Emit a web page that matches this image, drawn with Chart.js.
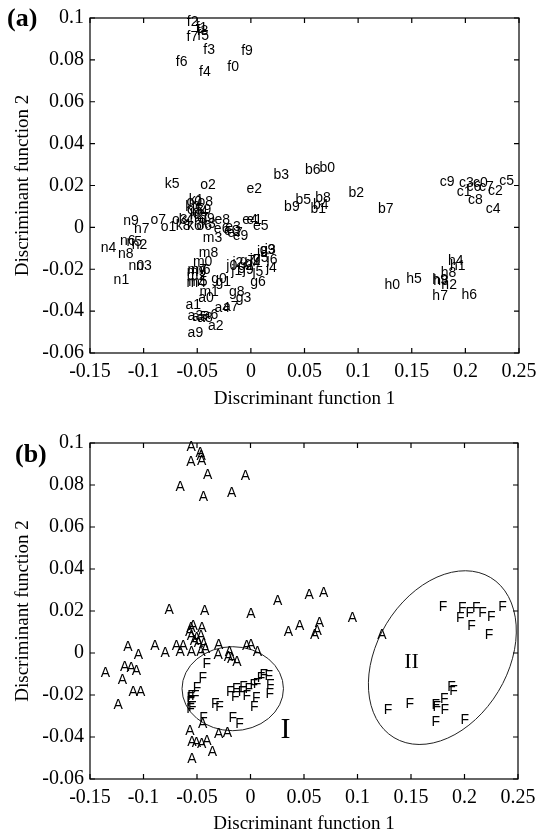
<!DOCTYPE html>
<html>
<head>
<meta charset="utf-8">
<script src="https://cdn.jsdelivr.net/npm/chart.js@4.4.0/dist/chart.umd.min.js"></script>
<style>
  body { margin: 0; background: #fff; }
  canvas { display: block; }
</style>
</head>
<body>
<canvas id="chartA" width="544" height="418"></canvas>
<canvas id="chartB" width="544" height="418"></canvas>
<script>
// sample names: letter = group, digit = replicate
const groups = ['a', 'b', 'c', 'e', 'f', 'g', 'h', 'j', 'k', 'm', 'n', 'o'];
const sampleLabels = groups.flatMap(g => [0, 1, 2, 3, 4, 5, 6, 7, 8, 9].map(d => g + d));

// groups marked "F" in panel (b), the rest are "A"
const fGroups = ['c', 'g', 'h', 'j', 'm'];

// discriminant function 1 (x)
const df1 = [
  -0.049, -0.061, -0.040, -0.059, -0.034, -0.055, -0.045, -0.026, -0.050, -0.059,   // a
  0.064, 0.0555, 0.091, 0.021, 0.058, 0.0415, 0.0505, 0.1185, 0.060, 0.031,         // b
  0.207, 0.192, 0.221, 0.194, 0.219, 0.2316, 0.201, 0.2128, 0.2025, 0.176,          // c
  -0.025, -0.004, -0.004, -0.024, -0.008, 0.002, -0.0345, -0.022, -0.034, -0.017,   // e
  -0.022, -0.0515, -0.0597, -0.0443, -0.0483, -0.050, -0.070, -0.060, -0.0505, -0.009, // f
  -0.037, -0.033, -0.012, -0.0142, -0.0057, 0.002, -0.0005, -0.0104, -0.0205, 0.0083, // g
  0.1245, 0.1857, 0.1776, 0.1701, 0.1838, 0.1448, 0.1963, 0.1692, 0.177, 0.1692,   // h
  -0.0229, -0.0182, -0.0172, 0.013, 0.014, 0.0015, 0.0146, -0.001, 0.0058, -0.0075, // j
  -0.0612, -0.058, -0.0567, -0.0466, -0.0673, -0.0804, -0.0596, -0.053, -0.070, -0.0508, // k
  -0.054, -0.048, -0.0598, -0.0448, -0.060, -0.0585, -0.0557, -0.059, -0.0485, -0.0598, // m
  -0.114, -0.128, -0.111, -0.107, -0.140, -0.116, -0.122, -0.109, -0.124, -0.119,   // n
  -0.060, -0.084, -0.0472, -0.0736, -0.0547, -0.0596, -0.0508, -0.0937, -0.0498, -0.0482 // o
];

// discriminant function 2 (y)
const df2 = [
  -0.034, -0.037, -0.047, -0.0425, -0.0385, -0.043, -0.042, -0.038, -0.0432, -0.0505, // a
  0.0285, 0.0086, 0.0164, 0.0249, 0.0105, 0.0128, 0.0275, 0.0086, 0.014, 0.0097,      // b
  0.0212, 0.0167, 0.0172, 0.0212, 0.0087, 0.022, 0.0192, 0.0192, 0.0129, 0.0218,      // c
  -0.002, 0.0036, 0.0185, 0.0003, 0.0034, 0.0004, -0.0008, -0.0028, 0.0036, -0.0043,  // e
  0.0763, 0.0952, 0.0979, 0.0847, 0.074, 0.0915, 0.079, 0.0907, 0.0938, 0.0843,       // f
  -0.0245, -0.026, -0.0186, -0.034, -0.017, -0.0147, -0.026, -0.0162, -0.031, -0.0107, // g
  -0.0274, -0.0183, -0.0274, -0.0258, -0.0162, -0.0245, -0.0322, -0.033, -0.0218, -0.025, // h
  -0.0186, -0.021, -0.017, -0.011, -0.0194, -0.0215, -0.0155, -0.0155, -0.0119, -0.0205, // j
  0.0097, 0.0128, 0.0057, 0.0017, 0.0033, 0.0205, 0.0004, 0.0046, 0.0004, 0.0081,    // k
  -0.0165, -0.031, -0.0234, -0.0053, -0.0267, -0.026, -0.0205, -0.0205, -0.0122, -0.0215, // m
  -0.0185, -0.025, -0.0085, -0.0185, -0.0097, -0.0072, -0.0065, -0.001, -0.0128, 0.003, // n
  0.012, 0.0001, 0.0201, 0.0033, 0.0073, 0.0081, 0.0004, 0.0033, 0.012, 0.0041        // o
];

const xTicks = [-0.15, -0.1, -0.05, 0, 0.05, 0.1, 0.15, 0.2, 0.25];
const xTickLabels = ['-0.15', '-0.1', '-0.05', '0', '0.05', '0.1', '0.15', '0.2', '0.25'];
const yTicks = [-0.06, -0.04, -0.02, 0, 0.02, 0.04, 0.06, 0.08, 0.1];
const yTickLabels = ['-0.06', '-0.04', '-0.02', '0', '0.02', '0.04', '0.06', '0.08', '0.1'];

// regions in panel (b): centre and two half-axis vectors, in data units
const regionNames = ['I', 'II'];
const regionCenters = [[-0.0166, -0.017], [0.1793, -0.0022]];
const regionAxisU = [[0.0474, 0], [0.0452, 0.0381]];
const regionAxisV = [[0, 0.020], [0.0523, -0.0161]];
const regionLabelAt = [[0.028, -0.0365], [0.1437, -0.0042]];

const serif = '"Liberation Serif", "Times New Roman", serif';
const sans = '"Liberation Sans", Arial, sans-serif';

const sampleClass = sampleLabels.map(s => fGroups.includes(s[0]) ? 'F' : 'A');
const points = df1.map((x, i) => ({ x: x, y: df2[i] }));

// writes each sample's text at its point, left aligned, like matlab text()
const textMarks = {
  id: 'textMarks',
  afterDatasetsDraw(chart) {
    const ctx = chart.ctx;
    const ds = chart.data.datasets[0];
    const meta = chart.getDatasetMeta(0);
    ctx.save();
    ctx.font = '14px ' + sans;
    ctx.fillStyle = '#000';
    ctx.textAlign = 'left';
    ctx.textBaseline = 'middle';
    meta.data.forEach((el, i) => ctx.fillText(ds.texts[i], el.x, el.y));
    ctx.restore();
  }
};

// box frame with inward ticks on all four sides + panel letter
const frameTicks = {
  id: 'frameTicks',
  afterDraw(chart, args, opts) {
    const { ctx, chartArea: a, scales: { x, y } } = chart;
    ctx.save();
    ctx.strokeStyle = '#000';
    ctx.lineWidth = 1.2;
    ctx.strokeRect(a.left, a.top, a.right - a.left, a.bottom - a.top);
    ctx.beginPath();
    x.ticks.forEach(t => {
      const px = x.getPixelForValue(t.value);
      ctx.moveTo(px, a.bottom); ctx.lineTo(px, a.bottom - 5);
      ctx.moveTo(px, a.top); ctx.lineTo(px, a.top + 5);
    });
    y.ticks.forEach(t => {
      const py = y.getPixelForValue(t.value);
      ctx.moveTo(a.left, py); ctx.lineTo(a.left + 5, py);
      ctx.moveTo(a.right, py); ctx.lineTo(a.right - 5, py);
    });
    ctx.stroke();
    ctx.font = 'bold 26px ' + serif;
    ctx.fillStyle = '#000';
    ctx.textAlign = 'left';
    ctx.textBaseline = 'middle';
    ctx.fillText(opts.panel, opts.panelX, opts.panelY);
    ctx.restore();
  }
};

// ellipses I and II, mapped through the scales
const regionEllipses = {
  id: 'regionEllipses',
  afterDatasetsDraw(chart) {
    const { ctx, scales: { x, y } } = chart;
    regionCenters.forEach((c, i) => {
      const cx = x.getPixelForValue(c[0]), cy = y.getPixelForValue(c[1]);
      const ux = x.getPixelForValue(c[0] + regionAxisU[i][0]) - cx;
      const uy = y.getPixelForValue(c[1] + regionAxisU[i][1]) - cy;
      const vx = x.getPixelForValue(c[0] + regionAxisV[i][0]) - cx;
      const vy = y.getPixelForValue(c[1] + regionAxisV[i][1]) - cy;
      ctx.save();
      ctx.beginPath();
      ctx.transform(ux, uy, vx, vy, cx, cy);
      ctx.arc(0, 0, 1, 0, Math.PI * 2);
      ctx.restore();
      ctx.save();
      ctx.strokeStyle = '#222';
      ctx.lineWidth = 1;
      ctx.stroke();
      ctx.fillStyle = '#000';
      ctx.textAlign = 'left';
      ctx.textBaseline = 'middle';
      ctx.font = (i === 0 ? '30px ' : '22px ') + serif;
      ctx.fillText(regionNames[i],
        x.getPixelForValue(regionLabelAt[i][0]),
        y.getPixelForValue(regionLabelAt[i][1]));
      ctx.restore();
    });
  }
};

function makeOptions(pad, xHeight, xTitlePad, panel, panelX, panelY) {
  return {
    responsive: false,
    animation: false,
    devicePixelRatio: 1,
    layout: { padding: pad },
    plugins: {
      legend: { display: false },
      tooltip: { enabled: false },
      frameTicks: { panel: panel, panelX: panelX, panelY: panelY }
    },
    scales: {
      x: {
        type: 'linear',
        min: -0.15,
        max: 0.25,
        afterBuildTicks: s => { s.ticks = xTicks.map(v => ({ value: v })); },
        afterFit: s => { s.height = xHeight; },
        grid: { display: false, drawTicks: false },
        border: { display: false },
        ticks: {
          autoSkip: false,
          maxRotation: 0,
          padding: 7,
          color: '#000',
          font: { family: serif, size: 20 },
          callback: (v, i) => xTickLabels[i]
        },
        title: {
          display: true,
          text: 'Discriminant function 1',
          color: '#000',
          font: { family: serif, size: 19 },
          padding: { top: 0, bottom: xTitlePad }
        }
      },
      y: {
        type: 'linear',
        min: -0.06,
        max: 0.1,
        afterBuildTicks: s => { s.ticks = yTicks.map(v => ({ value: v })); },
        afterFit: s => { s.width = 90; },
        grid: { display: false, drawTicks: false },
        border: { display: false },
        ticks: {
          autoSkip: false,
          padding: 6,
          color: '#000',
          font: { family: serif, size: 20 },
          callback: (v, i) => yTickLabels[i]
        },
        title: {
          display: true,
          text: 'Discriminant function 2',
          color: '#000',
          font: { family: serif, size: 19 },
          padding: { top: 12, bottom: 0 }
        }
      }
    }
  };
}

function makeDataset(texts) {
  return {
    data: points,
    texts: texts,
    pointRadius: 0,
    pointHoverRadius: 0,
    showLine: false
  };
}

new Chart(document.getElementById('chartA'), {
  type: 'scatter',
  data: { datasets: [makeDataset(sampleLabels)] },
  options: makeOptions({ left: 0, top: 16, right: 25, bottom: 0 }, 65, 8, '(a)', 7, 19),
  plugins: [textMarks, frameTicks]
});

new Chart(document.getElementById('chartB'), {
  type: 'scatter',
  data: { datasets: [makeDataset(sampleClass)] },
  options: makeOptions({ left: 0, top: 25, right: 26, bottom: 0 }, 57, 1, '(b)', 15, 37),
  plugins: [regionEllipses, textMarks, frameTicks]
});
</script>
</body>
</html>
